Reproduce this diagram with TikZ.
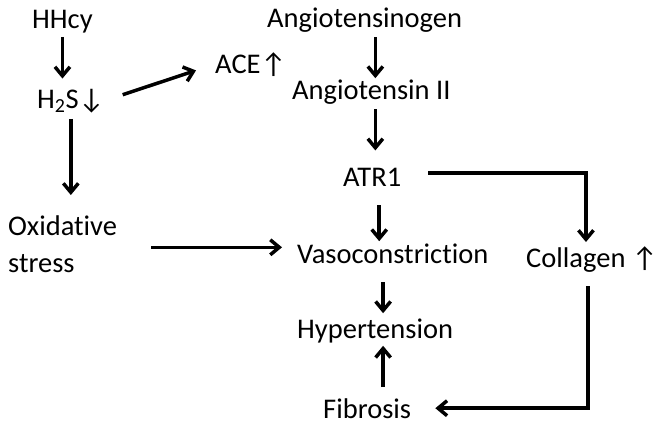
\documentclass[tikz,border=0pt]{standalone}
\usepackage{fontspec}
\setmainfont{Carlito}[Ligatures=NoCommon]
\usetikzlibrary{arrows.meta}

\begin{document}
\begin{tikzpicture}[x=1pt,y=-1pt,
    lbl/.style={inner sep=0pt, anchor=base west, font=\fontsize{28.5}{37}\selectfont},
    arr/.style={line width=3.5pt, -{Straight Barb[length=9pt,width=15pt]}}]
  \useasboundingbox (0,0) rectangle (663,432);
  % left column
  \node[lbl] (hhcy) at (32,28) {HHcy};
  \node[lbl] (hts) at (37,108) {H\textsubscript{2}S↓};
  \node[lbl] (ace) at (215,73) {ACE↑};
  \node[lbl, align=left] (oxs) at (8,272) {Oxidative\\stress};
  % middle column
  \node[lbl] (agt) at (267,27) {Angiotensinogen};
  \node[lbl] (angii) at (292,99) {Angiotensin II};
  \node[lbl] (atr) at (343,186) {ATR1};
  \node[lbl] (vaso) at (297,263) {Vasoconstriction};
  \node[lbl] (hyp) at (297,338) {Hypertension};
  \node[lbl] (fib) at (323,418) {Fibrosis};
  % right column
  \node[lbl] (coll) at (526,267) {Collagen ↑};
  % arrows
  \draw[arr, shorten <=4pt, shorten >=10pt] (hhcy.south) -- (hhcy.south |- hts.north);
  \draw[arr, shorten <=19pt, shorten >=20pt] (hts.east) -- (ace.west);
  \draw[arr, shorten <=6pt, shorten >=20pt] (hts.south) -- (hts.south |- oxs.north);
  \draw[arr, shorten <=5pt, shorten >=1pt] ([xshift=4pt]angii.north |- agt.south) -- ([xshift=4pt]angii.north);
  \draw[arr, shorten <=5pt, shorten >=17pt] ([xshift=4pt]angii.south) -- ([xshift=4pt]angii.south |- atr.north);
  \draw[arr, shorten <=27pt, shorten >=4pt] ([yshift=4pt]atr.east) -| ([xshift=-6pt]coll.north);
  \draw[arr, shorten <=34pt, shorten >=15pt] ([yshift=6pt]oxs.east |- vaso.west) -- ([yshift=6pt]vaso.west);
  \draw[arr, shorten <=19pt, shorten >=2pt] ([xshift=7pt]atr.south) -- ([xshift=7pt]atr.south |- vaso.north);
  \draw[arr, shorten <=19pt, shorten >=5pt] ([xshift=8pt]hyp.north |- vaso.south) -- ([xshift=8pt]hyp.north);
  \draw[arr, shorten <=11pt, shorten >=3pt] ([xshift=8pt]hyp.south |- fib.north) -- ([xshift=8pt]hyp.south);
  \draw[arr, shorten <=14pt, shorten >=24pt] ([xshift=-4pt]coll.south) |- (fib.east);
\end{tikzpicture}
\end{document}
